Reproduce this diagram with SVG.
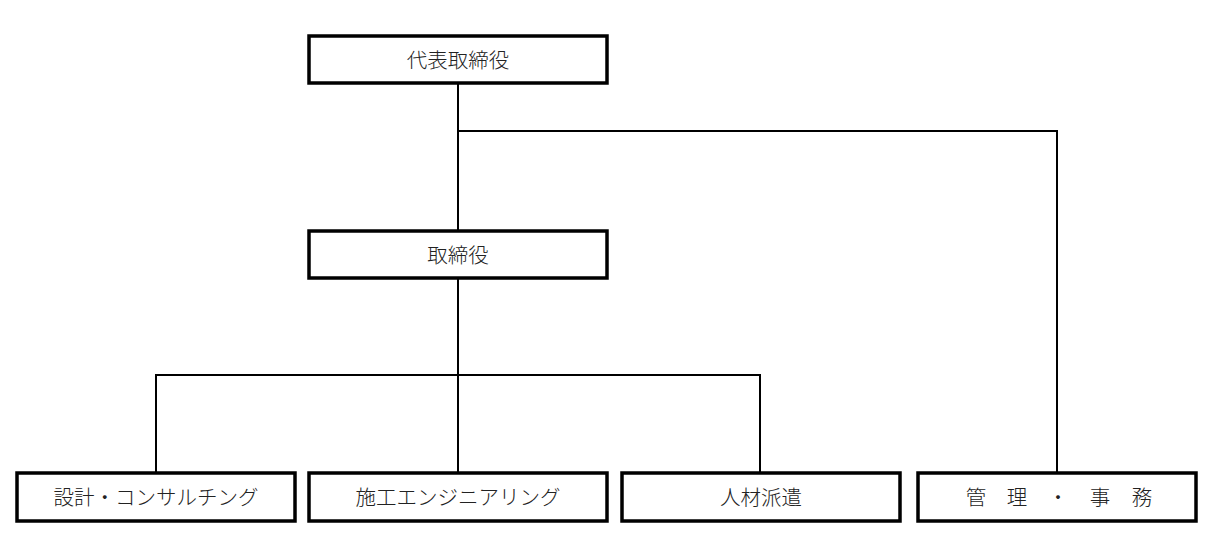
<svg xmlns="http://www.w3.org/2000/svg" width="1210" height="550" viewBox="0 0 1210 550">
<style>
.box{fill:#fff;stroke:#000;stroke-width:3.5}
.lbl{font-family:"Noto Sans CJK JP","Noto Sans CJK SC",sans-serif;font-size:20.5px;font-weight:300;fill:#222;text-anchor:middle;dominant-baseline:central}
.con{fill:none;stroke:#000;stroke-width:2}
</style>
<rect width="1210" height="550" fill="#fff"/>
<g id="connectors">
<path class="con" d="M458 83V231M458 131H1057V473M458 278V473M156 473V375H760V473"/>
</g>
<g id="n-ceo"><rect class="box" x="309" y="36" width="298" height="47"/><text class="lbl" x="458" y="59">代表取締役</text></g>
<g id="n-director"><rect class="box" x="309" y="231" width="298" height="47"/><text class="lbl" x="458" y="254">取締役</text></g>
<g id="n-design"><rect class="box" x="17" y="473" width="278" height="48"/><text class="lbl" x="156" y="496">設計・コンサルチング</text></g>
<g id="n-construction"><rect class="box" x="309" y="473" width="298" height="48"/><text class="lbl" x="458" y="496">施工エンジニアリング</text></g>
<g id="n-staffing"><rect class="box" x="622" y="473" width="278" height="48"/><text class="lbl" x="761" y="496">人材派遣</text></g>
<g id="n-admin"><rect class="box" x="918" y="473" width="278" height="48"/><text class="lbl" x="976 1017 1058 1100 1142" y="496">管理・事務</text></g>
</svg>
